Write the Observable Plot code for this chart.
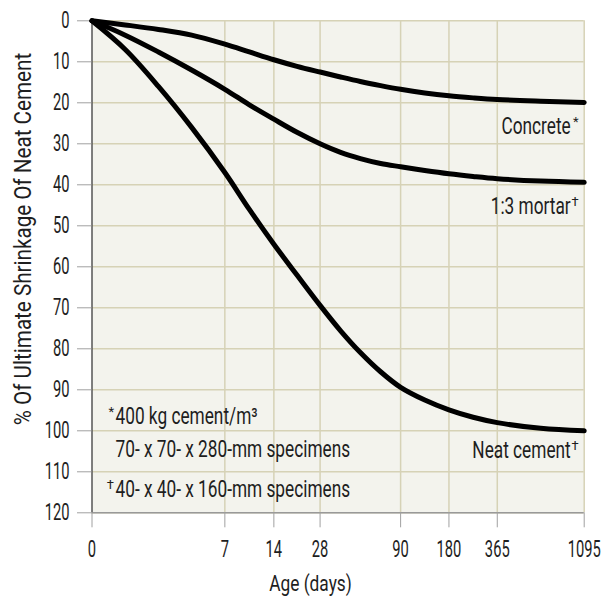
<!DOCTYPE html>
<html><head><meta charset="utf-8">
<script src="https://cdn.jsdelivr.net/npm/d3@7"></script>
<script src="https://cdn.jsdelivr.net/npm/@observablehq/plot@0.6"></script>
<style>
body{margin:0;background:#fff;}
</style>
</head><body><div id="chart"></div>
<script>
// ---- data ----
const days     = [0, 1.75, 3.5, 5.25, 7, 10.5, 14, 21, 28, 43.8, 59, 74.6, 90, 135, 180, 272.5, 365, 730, 1095];
const concrete = [0, 1.0, 2.1, 3.5, 5.7, 7.6, 9.5, 11.1, 12.5, 13.7, 14.8, 15.8, 16.7, 17.6, 18.3, 18.8, 19.2, 19.6, 19.9];
const mortar   = [0, 3.5, 7.6, 12.0, 16.7, 20.5, 24.0, 27.2, 30.0, 32.1, 33.6, 34.8, 35.6, 36.5, 37.3, 37.95, 38.5, 39.1, 39.4];
const neat     = [0, 7.0, 16.0, 26.0, 37.0, 46.0, 54.5, 62.0, 69.4, 75.6, 80.9, 85.6, 89.4, 92.5, 94.9, 96.7, 98.0, 99.4, 100];
const xTicks = [0, 7, 14, 28, 90, 180, 365, 1095];
const xTickSpacing = [0, 0.2699, 0.3695, 0.4634, 0.627, 0.7252, 0.8234, 1]; // relative spacing of the custom age axis
const yTicks = [0, 10, 20, 30, 40, 50, 60, 70, 80, 90, 100, 110, 120];
const seriesNames = ["Concrete", "1:3 mortar", "Neat cement"];
const seriesMarks = ["*", "†", "†"];
const labelY = [27.56, 47.07, 106.6];
const notes = ["400 kg cement/m³", "70- x 70- x 280-mm specimens", "40- x 40- x 160-mm specimens"];
const noteMarks = ["*", "", "†"];
const noteY = [98.3, 106.3, 116.2];
const xTitle = "Age (days)";
const yTitle = "% Of Ultimate Shrinkage Of Neat Cement";

// ---- build ----
const W = 601, H = 596, mL = 91.5, mR = 17.3, mT = 20.3, mB = 83.7;
const xRange = xTickSpacing.map(f => mL + f * (W - mL - mR));
const values = [concrete, mortar, neat];
const rows = seriesNames.flatMap((s, i) => days.map((d, j) => ({series: s, day: d, v: values[i][j]})));
const labels = seriesNames.map((s, i) => ({name: s, mark: seriesMarks[i], y: labelY[i]}));
const noteRows = notes.map((n, i) => ({text: n, mark: noteMarks[i], y: noteY[i]}));
const font = 'Roboto, "Noto Sans", sans-serif';
const grid = "#d6d2b6";

const chart = Plot.plot({
  width: W, height: H,
  marginLeft: mL, marginRight: mR, marginTop: mT, marginBottom: mB,
  style: {fontFamily: font, fontSize: "23px", color: "#1e1e1e", background: "#fff"},
  x: {type: "linear", domain: xTicks, range: xRange},
  y: {domain: [0, 120], reverse: true},
  marks: [
    Plot.frame({fill: "#f3f3ed", stroke: null}),
    Plot.gridX(xTicks.slice(1), {stroke: grid, strokeOpacity: 1, strokeWidth: 1.5}),
    Plot.gridY(yTicks, {stroke: grid, strokeOpacity: 1, strokeWidth: 1.5}),
    Plot.ruleY([120], {stroke: "#999", strokeWidth: 1.5}),
    Plot.ruleX([0], {stroke: "#555", strokeWidth: 1.5}),
    Plot.axisX(xTicks, {tickSize: 15, tickPadding: 12.5, stroke: "#a0a0a0", label: null, fontSize: 23, tickFormat: d => String(d)}),
    Plot.axisY(yTicks, {tickSize: 14.5, tickPadding: 8, stroke: "#a0a0a0", label: null, fontSize: 23, tickFormat: d => String(d)}),
    Plot.line(rows, {x: "day", y: "v", z: "series", stroke: "#000", strokeWidth: 5, curve: "catmull-rom"}),
    // series labels
    Plot.text(labels, {x: () => 1095, y: "y", text: "name", textAnchor: "end", lineAnchor: "bottom", dx: -13.5, fontSize: 23}),
    Plot.text(labels, {x: () => 1095, y: "y", text: "mark", textAnchor: "end", lineAnchor: "bottom", dx: -5.5, dy: -8, fontSize: 13}),
    // notes
    Plot.text(noteRows, {x: () => 0, y: "y", text: "text", textAnchor: "start", lineAnchor: "bottom", dx: 23.5, fontSize: 23}),
    Plot.text(noteRows, {x: () => 0, y: "y", text: "mark", textAnchor: "end", lineAnchor: "bottom", dx: 22, dy: -8, fontSize: 13}),
    // axis titles
    Plot.text([xTitle], {frameAnchor: "bottom", textAnchor: "middle", lineAnchor: "bottom", dx: -27.6, dy: 78.5, fontSize: 22.5}),
    Plot.text([yTitle], {frameAnchor: "left", textAnchor: "middle", rotate: -90, lineAnchor: "bottom", dx: -61.5, dy: -27.8, fontSize: 24})
  ]
});
document.getElementById("chart").appendChild(chart);

// condense the glyphs horizontally to match the narrow typeface of the original
d3.select(chart).selectAll("text").each(function() {
  const t = this.textContent;
  if (t.length < 2) { if (/^\d$/.test(t)) squeeze(this, 0.64); return; }
  const f = /^\d+$/.test(t) ? 0.64 : t === yTitle ? 0.86 : t === xTitle ? 0.77 : 0.75;
  squeeze(this, f);
});
function squeeze(el, f) {
  const w = el.getComputedTextLength();
  if (w > 0) {
    el.setAttribute("textLength", (w * f).toFixed(2));
    el.setAttribute("lengthAdjust", "spacingAndGlyphs");
  }
}
</script>
</body></html>
